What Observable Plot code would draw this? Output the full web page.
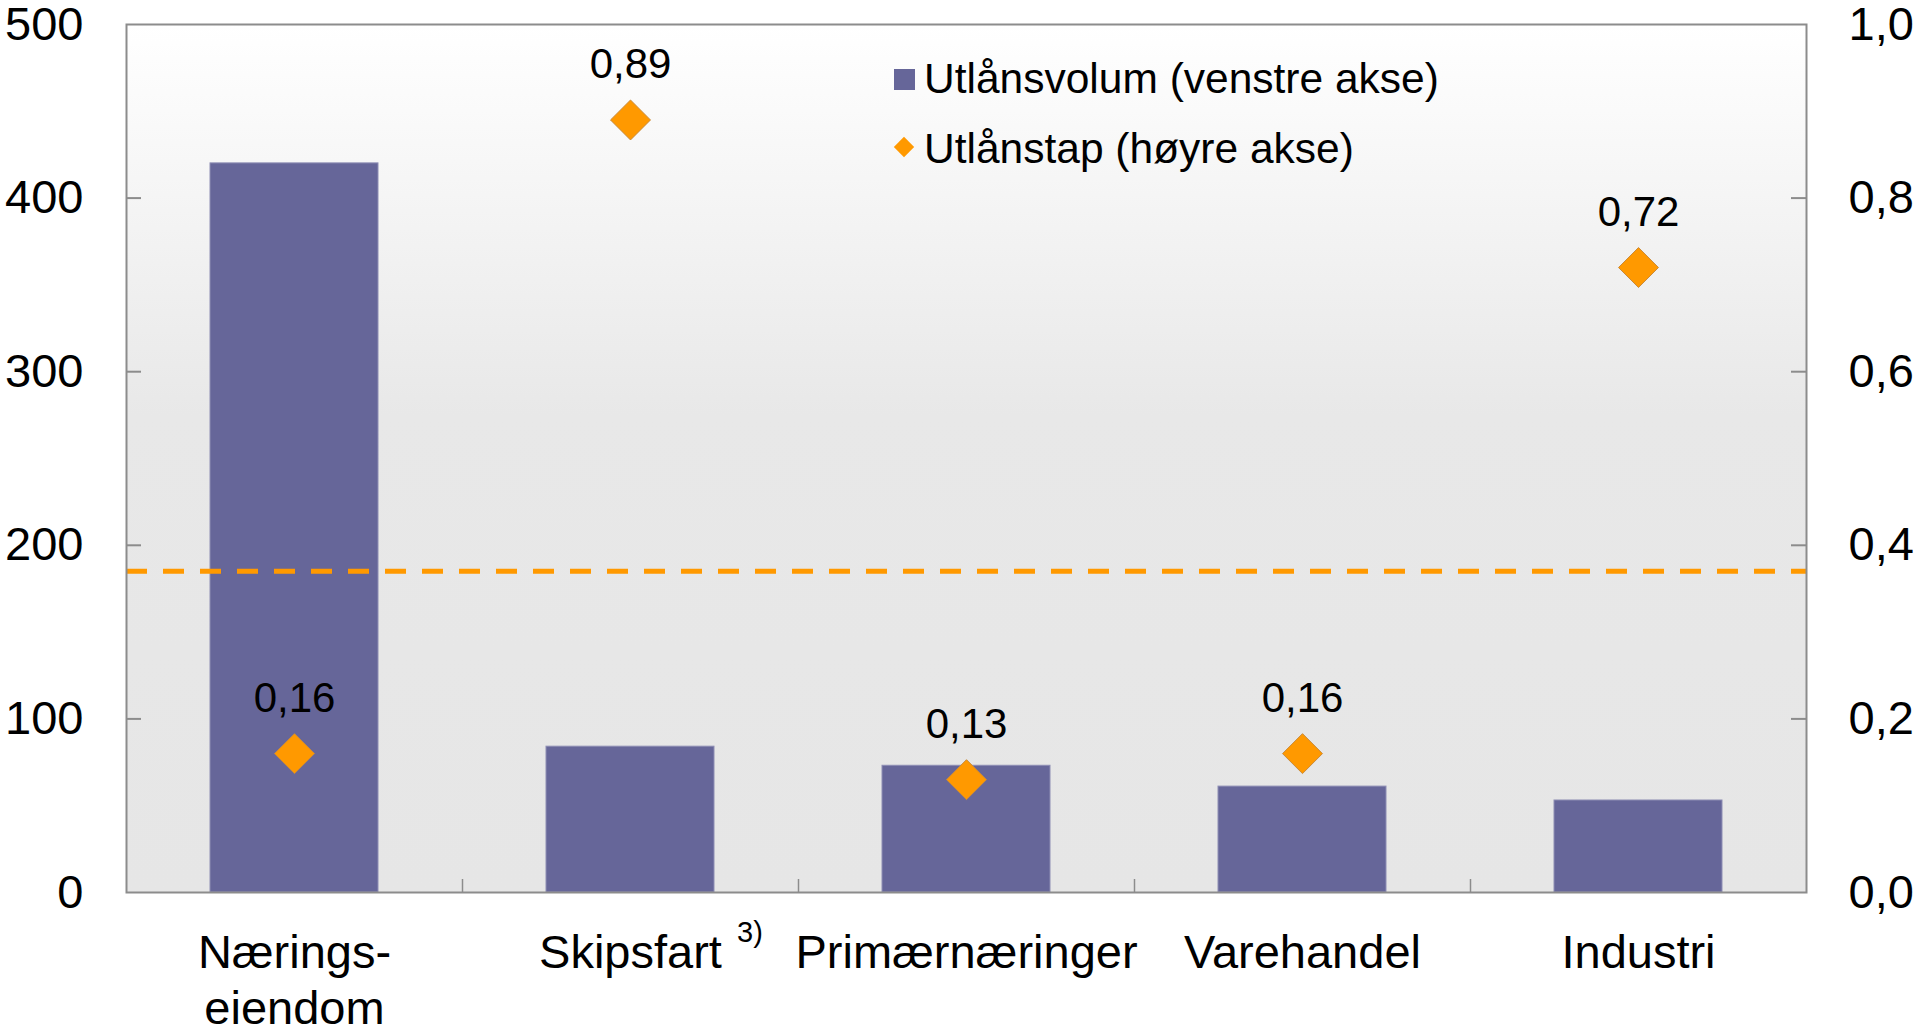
<!DOCTYPE html>
<html>
<head>
<meta charset="utf-8">
<script src="https://cdn.jsdelivr.net/npm/d3@7"></script>
<script src="https://cdn.jsdelivr.net/npm/@observablehq/plot@0.6"></script>
<style>
  html, body { margin: 0; padding: 0; background: #ffffff; }
  #chart { position: relative; width: 1920px; height: 1027px; font-family: "Liberation Sans", Arial, sans-serif; }
  #legend { position: absolute; left: 0; top: 0; pointer-events: none; }
</style>
</head>
<body>
<div id="chart"></div>
<script>
// ---- Data ----
const categories = ["Nærings-\neiendom", "Skipsfart", "Primærnæringer", "Varehandel", "Industri"];
const lendingVolume = [420, 84, 73, 61, 53];          // left axis
const loanLosses = [0.16, 0.89, 0.13, 0.16, 0.72];    // right axis
const averageLoss = 0.37;                             // dashed line, right axis
const leftTicks = [0, 100, 200, 300, 400, 500];
const rightTicks = [0.0, 0.2, 0.4, 0.6, 0.8, 1.0];
const footnotes = {"Skipsfart": "3)"};
const legendLabels = ["Utlånsvolum (venstre akse)", "Utlånstap (høyre akse)"];

// ---- Layout / style ----
const W = 1920, H = 1027;
const mL = 126, mR = 114, mT = 24, mB = 135;
const plotW = W - mL - mR, plotH = H - mT - mB;
const step = plotW / categories.length;
const ratio = leftTicks[leftTicks.length - 1] / rightTicks[rightTicks.length - 1];
const barColor = "#666699", orange = "#FF9900", axisGray = "#8c8c8c";
const font = "'Liberation Sans', Arial, sans-serif";

const rows = categories.map((c, i) => ({cat: c, vol: lendingVolume[i], loss: loanLosses[i]}));
const comma = (v, n) => v.toFixed(n).replace(".", ",");

const chart = Plot.plot({
  width: W, height: H,
  marginLeft: mL, marginRight: mR, marginTop: mT, marginBottom: mB,
  style: {fontFamily: font, color: "#000", background: "transparent"},
  x: {domain: categories, paddingInner: 0.5, paddingOuter: 0.25, axis: null, label: null},
  y: {domain: [leftTicks[0], leftTicks[leftTicks.length - 1]], axis: null, label: null},
  marks: [
    Plot.frame({fill: "url(#bgGrad)", stroke: "none"}),
    Plot.barY(rows, {x: "cat", y: "vol", fill: barColor, stroke: "#8e8eb4", strokeWidth: 1}),
    Plot.ruleY([averageLoss * ratio], {stroke: orange, strokeWidth: 5, strokeDasharray: "21,16"}),
    // category boundary ticks
    Plot.ruleX(categories.slice(0, -1), {x: d => d, dx: step / 2, insetTop: plotH - 13, stroke: axisGray, strokeWidth: 1.5}),
    // inner y ticks, left and right
    Plot.tickY(leftTicks.slice(1, -1), {y: d => d, insetRight: plotW - 15, stroke: axisGray, strokeWidth: 2}),
    Plot.tickY(leftTicks.slice(1, -1), {y: d => d, insetLeft: plotW - 15, stroke: axisGray, strokeWidth: 2}),
    Plot.frame({stroke: axisGray, strokeWidth: 2}),
    Plot.dot(rows, {x: "cat", y: d => d.loss * ratio, symbol: "diamond2", r: 18, fill: orange, stroke: "#c98a3a", strokeWidth: 1}),
    Plot.text(rows, {x: "cat", y: d => d.loss * ratio, text: d => comma(d.loss, 2), dy: -42, lineAnchor: "bottom", fontSize: 42, fill: "#000"}),
    Plot.axisY(leftTicks, {anchor: "left", label: null, tickSize: 0, tickPadding: 43, fontSize: 47, tickFormat: d => String(d), fill: "#000"}),
    Plot.axisY(rightTicks.map(v => v * ratio), {anchor: "right", label: null, tickSize: 0, tickPadding: 42, fontSize: 47, tickFormat: d => comma(d / ratio, 1), fill: "#000"}),
    Plot.axisX({anchor: "bottom", label: null, tickSize: 0, tickPadding: 36, fontSize: 47, lineHeight: 56 / 47, fill: "#000"})
  ]
});

document.getElementById("chart").appendChild(chart);

// background gradient
const svg = d3.select(chart);
const grad = svg.insert("defs", ":first-child").append("linearGradient")
  .attr("id", "bgGrad").attr("x1", 0).attr("y1", 0).attr("x2", 0).attr("y2", 1);
grad.append("stop").attr("offset", "0%").attr("stop-color", "#ffffff");
grad.append("stop").attr("offset", "45%").attr("stop-color", "#e8e8e8");
grad.append("stop").attr("offset", "100%").attr("stop-color", "#e6e6e6");

// footnote superscripts on category labels
svg.selectAll("text").each(function () {
  const t = this.textContent;
  if (footnotes[t]) {
    const bb = this.getBBox();
    const p = chart.createSVGPoint();
    p.x = bb.x + bb.width; p.y = bb.y;
    const q = p.matrixTransform(this.getScreenCTM()).matrixTransform(chart.getScreenCTM().inverse());
    svg.append("text")
      .attr("x", q.x + 28).attr("y", q.y + 17)
      .attr("font-size", 29).attr("font-family", font).attr("fill", "#000")
      .text(footnotes[t]);
  }
});

// legend
const lg = d3.select("#chart").append("svg").attr("id", "legend").attr("width", W).attr("height", 200);
lg.append("rect").attr("x", 894).attr("y", 69).attr("width", 21).attr("height", 21).attr("fill", barColor);
lg.append("path").attr("d", d3.symbol(d3.symbolDiamond2, 2 * 11.5 * 11.5)()).attr("transform", "translate(904,147)").attr("fill", orange);
legendLabels.forEach((s, i) => {
  lg.append("text").attr("x", 924).attr("y", i === 0 ? 93 : 163)
    .attr("font-size", 42.5).attr("font-family", font).attr("fill", "#000").text(s);
});
</script>
</body>
</html>
